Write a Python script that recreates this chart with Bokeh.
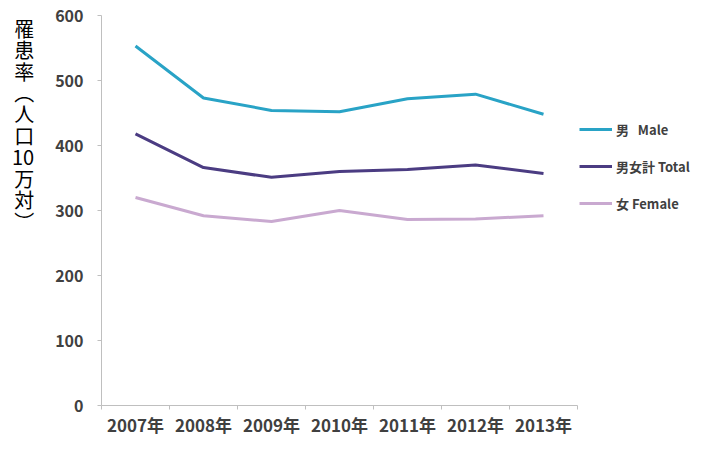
from bokeh.plotting import figure
from bokeh.models import FixedTicker, Legend, LegendItem, Range1d
from bokeh.layouts import row
from bokeh.embed import file_html
from bokeh.resources import INLINE

years = ["2007年", "2008年", "2009年", "2010年", "2011年", "2012年", "2013年"]
male = [553, 473, 454, 452, 472, 479, 448]
total = [418, 366, 351, 360, 363, 370, 357]
female = [320, 292, 283, 300, 286, 287, 292]
y_ticks = [0, 100, 200, 300, 400, 500, 600]
y_title = ["罹", "患", "率", "︵", "人", "口", "10", "万", "対", "︶"]
labels = ["男   Male", "男女計 Total", "女 Female"]
colors = ["#29A3C6", "#4B3C82", "#C9A9D0"]

xs = [i + 0.5 for i in range(len(years))]
font = "Noto Sans CJK JP"
H = 439

p = figure(width=579, height=H, output_backend="svg", toolbar_location=None, title=None,
           x_range=Range1d(0, len(years)), y_range=Range1d(0, 600),
           min_border_left=101, min_border_right=2, min_border_top=15, min_border_bottom=28)
p.outline_line_color = None
p.xgrid.visible = False
p.ygrid.visible = False

for s, c in zip([male, total, female], colors):
    p.line(xs, s, line_color=c, line_width=3)

xa = p.xaxis[0]
xa.ticker = FixedTicker(ticks=xs, minor_ticks=list(range(len(years) + 1)))
xa.major_label_overrides = {x: y for x, y in zip(xs, years)}
xa.major_tick_out = 0
xa.major_tick_in = 0
xa.minor_tick_out = 4
xa.minor_tick_in = 0
xa.axis_line_color = "#BFBFBF"
xa.minor_tick_line_color = "#BFBFBF"
xa.major_label_text_font = font
xa.major_label_text_font_size = "17px"
xa.major_label_text_font_style = "bold"
xa.major_label_text_color = "#404040"
xa.major_label_standoff = 2

ya = p.yaxis[0]
ya.ticker = FixedTicker(ticks=y_ticks, minor_ticks=[])
ya.major_tick_out = 4
ya.major_tick_in = 0
ya.axis_line_color = "#BFBFBF"
ya.major_tick_line_color = "#BFBFBF"
ya.major_label_text_font = font
ya.major_label_text_font_size = "16px"
ya.major_label_text_font_style = "bold"
ya.major_label_text_color = "#404040"
ya.major_label_standoff = 14
# vertical stacked title; trailing blank lines lift it to the top of the axis
ya.axis_label = "\n".join(y_title + [""] * 8)
ya.axis_label_orientation = "horizontal"
ya.axis_label_text_font = font
ya.axis_label_text_font_size = "20px"
ya.axis_label_text_font_style = "normal"
ya.axis_label_text_color = "#000000"
ya.axis_label_text_align = "center"
ya.axis_label_text_line_height = 0.74
ya.axis_label_standoff = 18

# legend strip on the right (its own lines sit outside its visible range)
rf = figure(width=702 - 579, height=H, output_backend="svg", toolbar_location=None, title=None,
            x_axis_location=None, y_axis_location=None,
            x_range=Range1d(0, len(years)), y_range=Range1d(1000, 1100),
            min_border_left=0, min_border_right=0, min_border_top=0, min_border_bottom=0)
rf.grid.visible = False
rf.outline_line_color = None
rr = [rf.line(xs, s, line_color=c, line_width=3) for s, c in zip([male, total, female], colors)]

legend = Legend(items=[LegendItem(label=l, renderers=[r]) for l, r in zip(labels, rr)],
                location=(0, 192))
legend.border_line_color = None
legend.background_fill_alpha = 0
legend.padding = 0
legend.margin = 0
legend.spacing = 17
legend.glyph_width = 33
legend.glyph_height = 20
legend.label_height = 20
legend.label_standoff = 4
legend.label_text_font = font
legend.label_text_font_size = "13px"
legend.label_text_font_style = "bold"
legend.label_text_color = "#404040"
rf.add_layout(legend, "center")

open("out.html", "w").write(file_html(row(p, rf, spacing=0), INLINE))
